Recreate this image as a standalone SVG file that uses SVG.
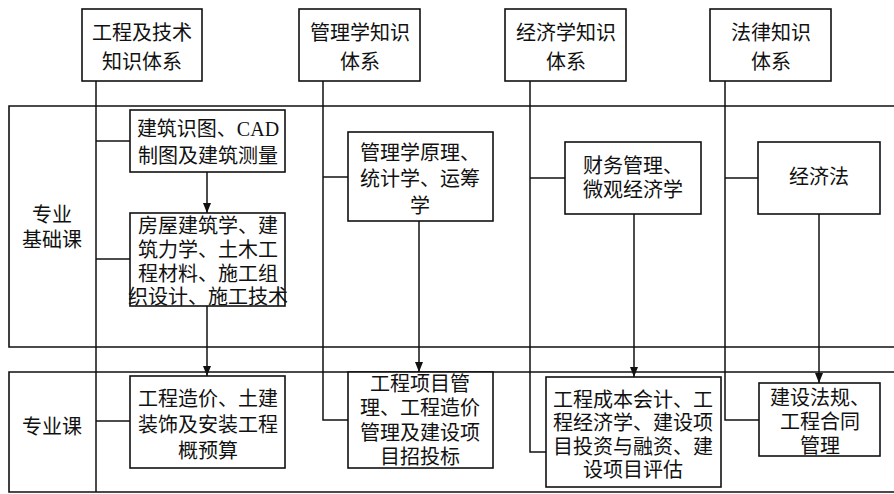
<svg xmlns="http://www.w3.org/2000/svg" width="894" height="494" viewBox="0 0 894 494">
<style>
.bx{fill:#fff;stroke:#111;stroke-width:1.6}
.ln{fill:none;stroke:#111;stroke-width:1.5}
.band{fill:none;stroke:#111;stroke-width:1.6}
text{font-family:"Liberation Serif","Noto Sans CJK SC",serif;font-size:20px;fill:#111;text-anchor:middle;dominant-baseline:central}
</style>
<defs>
<marker id="ah" markerUnits="userSpaceOnUse" markerWidth="10" markerHeight="12" refX="10" refY="5" orient="auto" viewBox="0 0 10 10">
<path d="M0,1 L10,5 L0,9 Z" fill="#111"/>
</marker>
</defs>
<rect width="894" height="494" fill="#fff"/>
<g id="bands">
<path class="band" d="M895,106 H9 V347 H895"/>
<path class="band" d="M895,372 H9 V492 H895"/>
<text x="52" y="215">专业</text>
<text x="52" y="240">基础课</text>
<text x="52" y="427">专业课</text>
</g>
<g id="connectors">
<path class="ln" d="M96,81 V492"/>
<path class="ln" d="M96,141 H130"/>
<path class="ln" d="M96,259 H130"/>
<path class="ln" d="M96,421 H130"/>
<path class="ln" d="M323,81 V420 H348"/>
<path class="ln" d="M323,177 H348"/>
<path class="ln" d="M530,81 V452 H546"/>
<path class="ln" d="M530,178 H565"/>
<path class="ln" d="M725,81 V420 H759"/>
<path class="ln" d="M725,178 H758"/>
<path class="ln" d="M207,172 V213" marker-end="url(#ah)"/>
<path class="ln" d="M207,306 V376" marker-end="url(#ah)"/>
<path class="ln" d="M419,221 V372" marker-end="url(#ah)"/>
<path class="ln" d="M634,214 V377" marker-end="url(#ah)"/>
<path class="ln" d="M819,214 V383" marker-end="url(#ah)"/>
</g>
<g id="top1"><rect class="bx" x="82" y="9" width="120" height="72"/><text x="142" y="33">工程及技术</text><text x="142" y="62">知识体系</text></g>
<g id="top2"><rect class="bx" x="299" y="9" width="121" height="72"/><text x="360" y="33">管理学知识</text><text x="360" y="62">体系</text></g>
<g id="top3"><rect class="bx" x="505" y="9" width="121" height="72"/><text x="566" y="33">经济学知识</text><text x="566" y="62">体系</text></g>
<g id="top4"><rect class="bx" x="710" y="9" width="121" height="72"/><text x="771" y="33">法律知识</text><text x="771" y="62">体系</text></g>
<g id="a1"><rect class="bx" x="130" y="110" width="155" height="62"/><text x="208" y="129">建筑识图、CAD</text><text x="208" y="156">制图及建筑测量</text></g>
<g id="a2"><rect class="bx" x="130" y="213" width="155" height="93"/><text x="208" y="226">房屋建筑学、建</text><text x="208" y="250">筑力学、土木工</text><text x="208" y="274">程材料、施工组</text><text x="208" y="297">织设计、施工技术</text></g>
<g id="b1"><rect class="bx" x="130" y="376" width="155" height="92"/><text x="208" y="399">工程造价、土建</text><text x="208" y="425">装饰及安装工程</text><text x="208" y="451">概预算</text></g>
<g id="m1"><rect class="bx" x="348" y="132" width="145" height="89"/><text x="420" y="153">管理学原理、</text><text x="420" y="179">统计学、运筹</text><text x="420" y="206">学</text></g>
<g id="m2"><rect class="bx" x="348" y="372" width="145" height="96"/><text x="420" y="384">工程项目管</text><text x="420" y="408">理、工程造价</text><text x="420" y="433">管理及建设项</text><text x="420" y="457">目招投标</text></g>
<g id="e1"><rect class="bx" x="565" y="142" width="136" height="72"/><text x="633" y="166">财务管理、</text><text x="633" y="190">微观经济学</text></g>
<g id="e2"><rect class="bx" x="546" y="377" width="175" height="110"/><text x="633" y="400">工程成本会计、工</text><text x="633" y="423">程经济学、建设项</text><text x="633" y="447">目投资与融资、建</text><text x="633" y="470">设项目评估</text></g>
<g id="l1"><rect class="bx" x="758" y="142" width="122" height="72"/><text x="819" y="177">经济法</text></g>
<g id="l2"><rect class="bx" x="759" y="383" width="121" height="73"/><text x="820" y="398">建设法规、</text><text x="820" y="422">工程合同</text><text x="820" y="446">管理</text></g>
</svg>
